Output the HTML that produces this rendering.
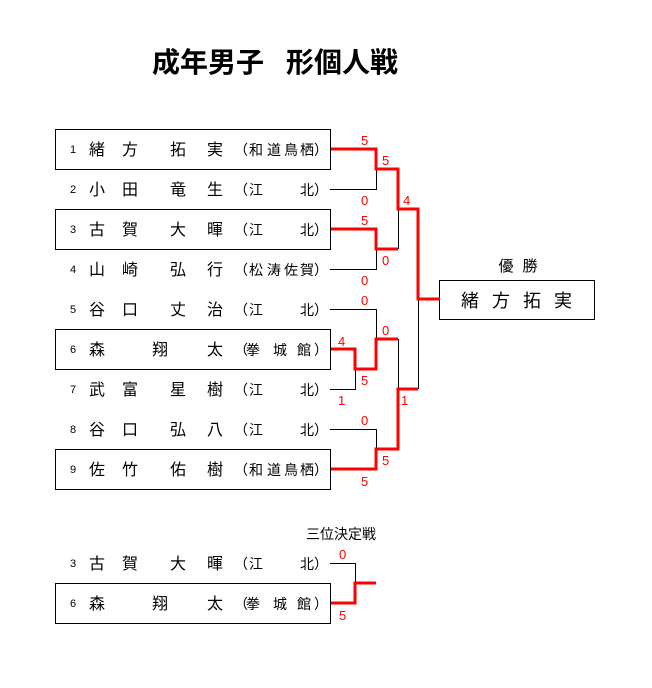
<!DOCTYPE html>
<html><head><meta charset="utf-8"><style>
html,body{margin:0;padding:0;background:#fff;}
svg{display:block;font-family:"Liberation Sans","Noto Sans CJK JP",sans-serif;}
.n{font-size:11px;fill:#000;}
.c{font-size:16px;fill:#000;}
.s{font-size:13px;fill:#f00;}
</style></head><body>
<svg width="652" height="688" viewBox="0 0 652 688" xmlns="http://www.w3.org/2000/svg">
<text x="152" y="72" style="font-size:28px;font-weight:bold" fill="#000">成年男子</text>
<text x="286" y="72" style="font-size:28px;font-weight:bold" fill="#000">形個人戦</text>

<g fill="none" stroke="#000" stroke-width="1">
<rect x="55.5" y="129.5" width="275" height="40"/>
<rect x="55.5" y="209.5" width="275" height="40"/>
<rect x="55.5" y="329.5" width="275" height="40"/>
<rect x="55.5" y="449.5" width="275" height="40"/>
<rect x="55.5" y="583.5" width="275" height="40"/>
<rect x="439.5" y="280.5" width="155" height="39"/>
<polyline points="330,189.5 376.5,189.5 376.5,169"/>
<polyline points="330,269.5 376.5,269.5 376.5,249"/>
<polyline points="398.5,209 398.5,249"/>
<polyline points="330,309.5 376.5,309.5 376.5,339"/>
<polyline points="330,389.5 355.5,389.5 355.5,369"/>
<polyline points="398.5,339 398.5,389"/>
<polyline points="330,429.5 376.5,429.5 376.5,449"/>
<polyline points="418.5,299 418.5,389"/>
<polyline points="330,563.5 355.5,563.5 355.5,583"/>
</g>
<g fill="none" stroke="#f00" stroke-width="3" stroke-linejoin="miter">
<polyline points="331,149 376,149 376,169 398,169 398,209 418,209 418,299 440,299"/>
<polyline points="331,229 376,229 376,249 398,249"/>
<polyline points="331,349 355,349 355,369 376,369 376,339 398,339"/>
<polyline points="331,469 376,469 376,449 398,449 398,389 418,389"/>
<polyline points="331,603 355,603 355,583 376,583"/>
</g>

<g class="s">
<text x="361" y="145">5</text><text x="382" y="165">5</text>
<text x="361" y="205">0</text><text x="403" y="205">4</text>
<text x="361" y="225">5</text><text x="382" y="265">0</text>
<text x="361" y="285">0</text><text x="361" y="305">0</text>
<text x="382" y="335">0</text><text x="338" y="346">4</text>
<text x="361" y="385">5</text><text x="338" y="405">1</text>
<text x="401" y="405">1</text><text x="361" y="425">0</text>
<text x="382" y="465">5</text><text x="361" y="486">5</text>
<text x="339" y="559">0</text><text x="339" y="620">5</text>
</g>

<g class="n">
<text x="70" y="153">1</text><text x="70" y="193">2</text><text x="70" y="233">3</text>
<text x="70" y="273">4</text><text x="70" y="313">5</text><text x="70" y="353">6</text>
<text x="70" y="393">7</text><text x="70" y="433">8</text><text x="70" y="473">9</text>
<text x="70" y="567">3</text><text x="70" y="607">6</text>
</g>
<g class="c" text-anchor="middle">
<text x="97 130 178 215" y="155">緒方拓実</text>
<text x="241 256 274 291 307 321" y="155" font-size="14">（和道鳥栖）</text>
<text x="97 130 178 215" y="195">小田竜生</text>
<text x="241 256 307 321" y="195" font-size="14">（江北）</text>
<text x="97 130 178 215" y="235">古賀大暉</text>
<text x="241 256 307 321" y="235" font-size="14">（江北）</text>
<text x="97 130 178 215" y="275">山崎弘行</text>
<text x="241 256 274 291 307 321" y="275" font-size="14">（松涛佐賀）</text>
<text x="97 130 178 215" y="315">谷口丈治</text>
<text x="241 256 307 321" y="315" font-size="14">（江北）</text>
<text x="97 160 215" y="355">森翔太</text>
<text x="241 253 280 304 321" y="355" font-size="14">（拳城館）</text>
<text x="97 130 178 215" y="395">武富星樹</text>
<text x="241 256 307 321" y="395" font-size="14">（江北）</text>
<text x="97 130 178 215" y="435">谷口弘八</text>
<text x="241 256 307 321" y="435" font-size="14">（江北）</text>
<text x="97 130 178 215" y="475">佐竹佑樹</text>
<text x="241 256 274 291 307 321" y="475" font-size="14">（和道鳥栖）</text>
<text x="97 130 178 215" y="569">古賀大暉</text>
<text x="241 256 307 321" y="569" font-size="14">（江北）</text>
<text x="97 160 215" y="609">森翔太</text>
<text x="241 253 280 304 321" y="609" font-size="14">（拳城館）</text>
<text x="470 501 532 563" y="307" font-size="18">緒方拓実</text>
<text x="506 530" y="271" font-size="15">優勝</text>
<text x="341" y="539" font-size="14">三位決定戦</text>
</g>
</svg>
</body></html>
